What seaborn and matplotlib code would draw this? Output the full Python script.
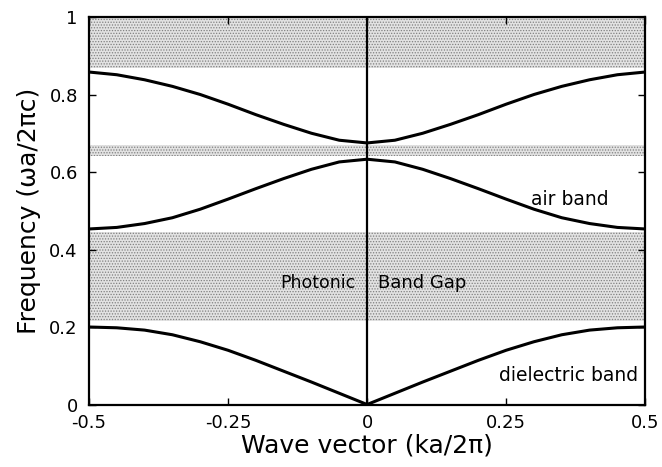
import matplotlib
matplotlib.use("Agg")
import matplotlib.pyplot as plt
import numpy as np
import pandas as pd
import seaborn as sns

# Wave vector samples (ka/2pi) and band frequencies (wa/2pi c)
k = [-0.5, -0.45, -0.4, -0.35, -0.3, -0.25, -0.2, -0.15, -0.1, -0.05, 0.0,
     0.05, 0.1, 0.15, 0.2, 0.25, 0.3, 0.35, 0.4, 0.45, 0.5]
dielectric_band = [0.200, 0.198, 0.192, 0.180, 0.162, 0.140, 0.114, 0.086, 0.058, 0.029, 0.0,
                   0.029, 0.058, 0.086, 0.114, 0.140, 0.162, 0.180, 0.192, 0.198, 0.200]
air_band = [0.453, 0.457, 0.467, 0.482, 0.504, 0.530, 0.557, 0.583, 0.607, 0.626, 0.633,
            0.626, 0.607, 0.583, 0.557, 0.530, 0.504, 0.482, 0.467, 0.457, 0.453]
third_band = [0.858, 0.851, 0.838, 0.821, 0.800, 0.775, 0.748, 0.723, 0.700, 0.682, 0.675,
              0.682, 0.700, 0.723, 0.748, 0.775, 0.800, 0.821, 0.838, 0.851, 0.858]

# Frequency ranges of the band gaps (lower, upper)
gap_lower = [0.215, 0.642, 0.868]
gap_upper = [0.445, 0.669, 1.0]

x_ticks = [-0.5, -0.25, 0, 0.25, 0.5]
x_tick_labels = ["-0.5", "-0.25", "0", "0.25", "0.5"]
y_ticks = [0, 0.2, 0.4, 0.6, 0.8, 1]
y_tick_labels = ["0", "0.2", "0.4", "0.6", "0.8", "1"]

sns.set_style("ticks")
plt.rcParams["font.family"] = ["DejaVu Sans"]
plt.rcParams["hatch.linewidth"] = 0.6
plt.rcParams["text.color"] = "black"
plt.rcParams["axes.labelcolor"] = "black"

fig = plt.figure(figsize=(6.62, 4.67), dpi=100)
ax = fig.add_axes([0.1344, 0.1338, 0.8402, 0.8298])

# Stippled band-gap regions
for lo, hi in zip(gap_lower, gap_upper):
    ax.axhspan(lo, hi, facecolor="#e2e2e2", edgecolor="#808080",
               hatch="......", linewidth=0, zorder=0)

bands = pd.DataFrame({"k": k * 3,
                      "freq": dielectric_band + air_band + third_band,
                      "band": ["dielectric"] * len(k) + ["air"] * len(k) + ["third"] * len(k)})
sns.lineplot(data=bands, x="k", y="freq", units="band", estimator=None,
             color="black", linewidth=2.2, ax=ax, legend=False, zorder=3)

ax.axvline(0, color="black", linewidth=1.6, zorder=3)

ax.set_xlim(-0.5, 0.5)
ax.set_ylim(0, 1)
ax.set_xticks(x_ticks)
ax.set_xticklabels(x_tick_labels)
ax.set_yticks(y_ticks)
ax.set_yticklabels(y_tick_labels)
ax.tick_params(direction="in", length=5, width=1, top=True, right=True,
               labelsize=13, colors="black")
ax.tick_params(axis="x", pad=7)
ax.tick_params(axis="y", pad=8)
for side in ax.spines.values():
    side.set_linewidth(1.6)
    side.set_color("black")

ax.set_xlabel("Wave vector (ka/2\u03c0)", fontsize=18, labelpad=1, color="black")
ax.set_ylabel("Frequency (\u03c9a/2\u03c0c)", fontsize=18, labelpad=6, color="black")

ax.text(-0.02, 0.313, "Photonic", ha="right", va="center", fontsize=12.5, color="black")
ax.text(0.02, 0.313, "Band Gap", ha="left", va="center", fontsize=13, color="black")
ax.text(0.365, 0.528, "air band", ha="center", va="center", fontsize=13.5, color="black")
ax.text(0.362, 0.074, "dielectric band", ha="center", va="center", fontsize=13.5, color="black")

fig.savefig("out.png", dpi=100)
